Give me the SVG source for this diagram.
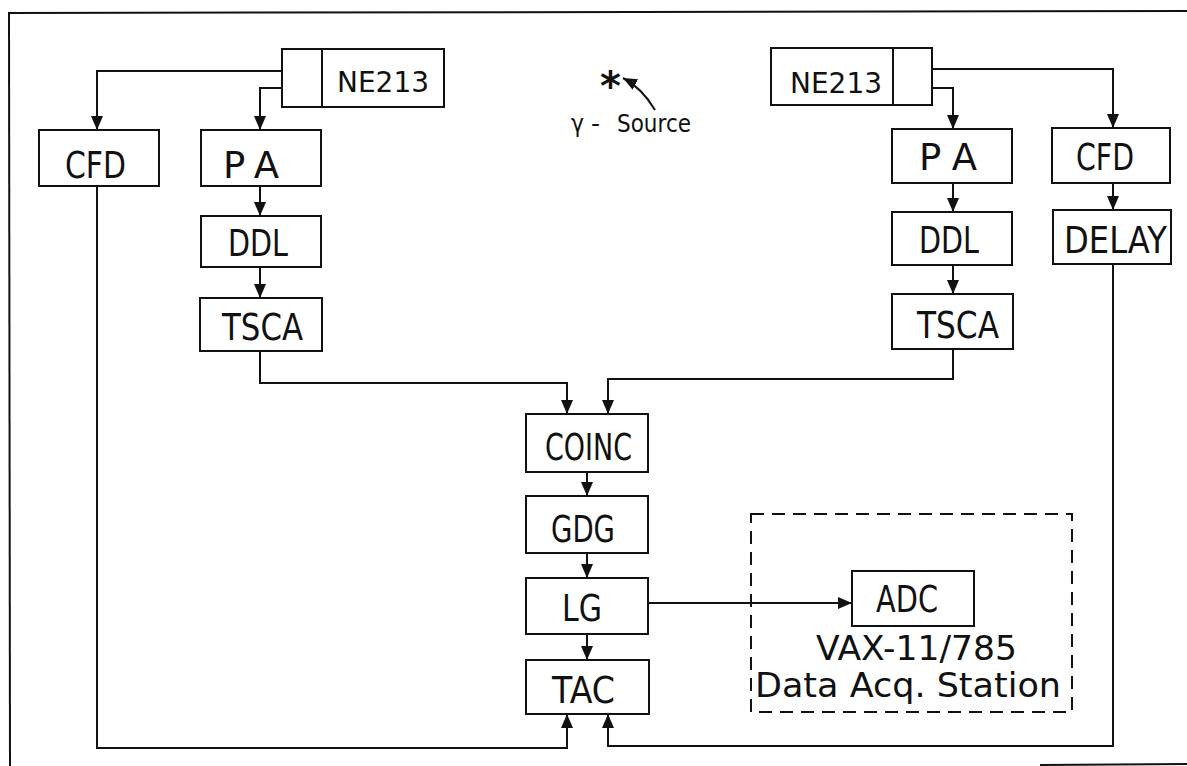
<svg xmlns="http://www.w3.org/2000/svg" width="1187" height="766" viewBox="0 0 1187 766">
<style>
.box{fill:#fff;stroke:#111;stroke-width:2}
.ln{fill:none;stroke:#111;stroke-width:2}
.lbl{font-family:"DejaVu Sans",sans-serif;font-size:37px;fill:#111}
.sm{font-family:"DejaVu Sans",sans-serif;fill:#111}
</style>
<defs>
<marker id="ah" markerUnits="userSpaceOnUse" markerWidth="15" markerHeight="13" refX="14" refY="6" orient="auto" viewBox="0 0 15 13">
<path d="M0,0 L14,6 L0,12 z" fill="#111"/>
</marker>
</defs>
<rect width="1187" height="766" fill="#fff"/>
<g id="frame" class="ln">
<path d="M8,13 L1187,11"/>
<path d="M9,13 L10,766"/>
<path d="M1040,765 L1187,764"/>
</g>
<g id="connectors" class="ln">
<path d="M282,71 H97 V130" marker-end="url(#ah)"/>
<path d="M282,88 H260 V130" marker-end="url(#ah)"/>
<path d="M260,186 V216" marker-end="url(#ah)"/>
<path d="M260,267 V298" marker-end="url(#ah)"/>
<path d="M260,351 V383 H567 V414" marker-end="url(#ah)"/>
<path d="M953,349 V379 H608 V414" marker-end="url(#ah)"/>
<path d="M932,69 H1113 V128" marker-end="url(#ah)"/>
<path d="M932,88 H953 V129" marker-end="url(#ah)"/>
<path d="M953,183 V212" marker-end="url(#ah)"/>
<path d="M953,265 V294" marker-end="url(#ah)"/>
<path d="M1113,183 V210" marker-end="url(#ah)"/>
<path d="M587,472 V496" marker-end="url(#ah)"/>
<path d="M587,553 V578" marker-end="url(#ah)"/>
<path d="M587,634 V660" marker-end="url(#ah)"/>
<path d="M648,603 H852" marker-end="url(#ah)"/>
<path d="M97,186 V748 H567 V714" marker-end="url(#ah)"/>
<path d="M1113,264 V746 H608 V714" marker-end="url(#ah)"/>
<path d="M655,110 Q642,88 623,78" marker-end="url(#ah)"/>
</g>
<g id="source">
<text class="sm" x="600" y="100" font-size="40" font-weight="bold">*</text>
<text class="sm" x="571" y="132" font-size="25" textLength="13" lengthAdjust="spacingAndGlyphs">γ</text>
<text class="sm" x="591" y="132" font-size="25">-</text>
<text class="sm" x="617" y="132" font-size="25" textLength="74" lengthAdjust="spacingAndGlyphs">Source</text>
</g>
<g id="daq">
<rect x="751" y="514" width="321" height="198" fill="none" stroke="#111" stroke-width="2" stroke-dasharray="13,8"/>
<text class="sm" x="816" y="660" font-size="34" textLength="201" lengthAdjust="spacingAndGlyphs">VAX-11/785</text>
<text class="sm" x="755" y="697" font-size="34" textLength="306" lengthAdjust="spacingAndGlyphs">Data Acq. Station</text>
</g>
<g id="ne213-left">
<rect class="box" x="282" y="49" width="162" height="58"/>
<line class="ln" x1="322" y1="49" x2="322" y2="107"/>
<text class="sm" x="337" y="92" font-size="29" textLength="92" lengthAdjust="spacingAndGlyphs">NE213</text>
</g>
<g id="ne213-right">
<rect class="box" x="771" y="48" width="161" height="57"/>
<line class="ln" x1="893" y1="48" x2="893" y2="105"/>
<text class="sm" x="790" y="93" font-size="29" textLength="92" lengthAdjust="spacingAndGlyphs">NE213</text>
</g>
<g id="cfd-left">
<rect class="box" x="39" y="130" width="120" height="56"/>
<text class="lbl" x="65" y="178" textLength="61" lengthAdjust="spacingAndGlyphs">CFD</text>
</g>
<g id="pa-left">
<rect class="box" x="201" y="130" width="120" height="56"/>
<text class="lbl" x="223" y="178" textLength="56" lengthAdjust="spacing">PA</text>
</g>
<g id="ddl-left">
<rect class="box" x="201" y="216" width="120" height="51"/>
<text class="lbl" x="228" y="256" textLength="60" lengthAdjust="spacingAndGlyphs">DDL</text>
</g>
<g id="tsca-left">
<rect class="box" x="200" y="298" width="122" height="53"/>
<text class="lbl" x="222" y="340" textLength="81" lengthAdjust="spacingAndGlyphs">TSCA</text>
</g>
<g id="pa-right">
<rect class="box" x="892" y="129" width="120" height="54"/>
<text class="lbl" x="919" y="170" textLength="58" lengthAdjust="spacing">PA</text>
</g>
<g id="cfd-right">
<rect class="box" x="1052" y="128" width="118" height="55"/>
<text class="lbl" x="1076" y="170" textLength="58" lengthAdjust="spacingAndGlyphs">CFD</text>
</g>
<g id="ddl-right">
<rect class="box" x="892" y="212" width="120" height="53"/>
<text class="lbl" x="919" y="253" textLength="60" lengthAdjust="spacingAndGlyphs">DDL</text>
</g>
<g id="delay">
<rect class="box" x="1053" y="210" width="118" height="54"/>
<text class="lbl" x="1064" y="253" textLength="103" lengthAdjust="spacingAndGlyphs">DELAY</text>
</g>
<g id="tsca-right">
<rect class="box" x="892" y="294" width="121" height="55"/>
<text class="lbl" x="917" y="338" textLength="82" lengthAdjust="spacingAndGlyphs">TSCA</text>
</g>
<g id="coinc">
<rect class="box" x="526" y="414" width="122" height="58"/>
<text class="lbl" x="545" y="460" textLength="87" lengthAdjust="spacingAndGlyphs">COINC</text>
</g>
<g id="gdg">
<rect class="box" x="526" y="496" width="122" height="57"/>
<text class="lbl" x="551" y="542" textLength="64" lengthAdjust="spacingAndGlyphs">GDG</text>
</g>
<g id="lg">
<rect class="box" x="526" y="578" width="122" height="56"/>
<text class="lbl" x="562" y="621" textLength="40" lengthAdjust="spacingAndGlyphs">LG</text>
</g>
<g id="tac">
<rect class="box" x="526" y="660" width="123" height="54"/>
<text class="lbl" x="552" y="703" textLength="63" lengthAdjust="spacingAndGlyphs">TAC</text>
</g>
<g id="adc">
<rect class="box" x="852" y="571" width="122" height="55"/>
<text class="lbl" x="876" y="612" textLength="62" lengthAdjust="spacingAndGlyphs">ADC</text>
</g>
</svg>
